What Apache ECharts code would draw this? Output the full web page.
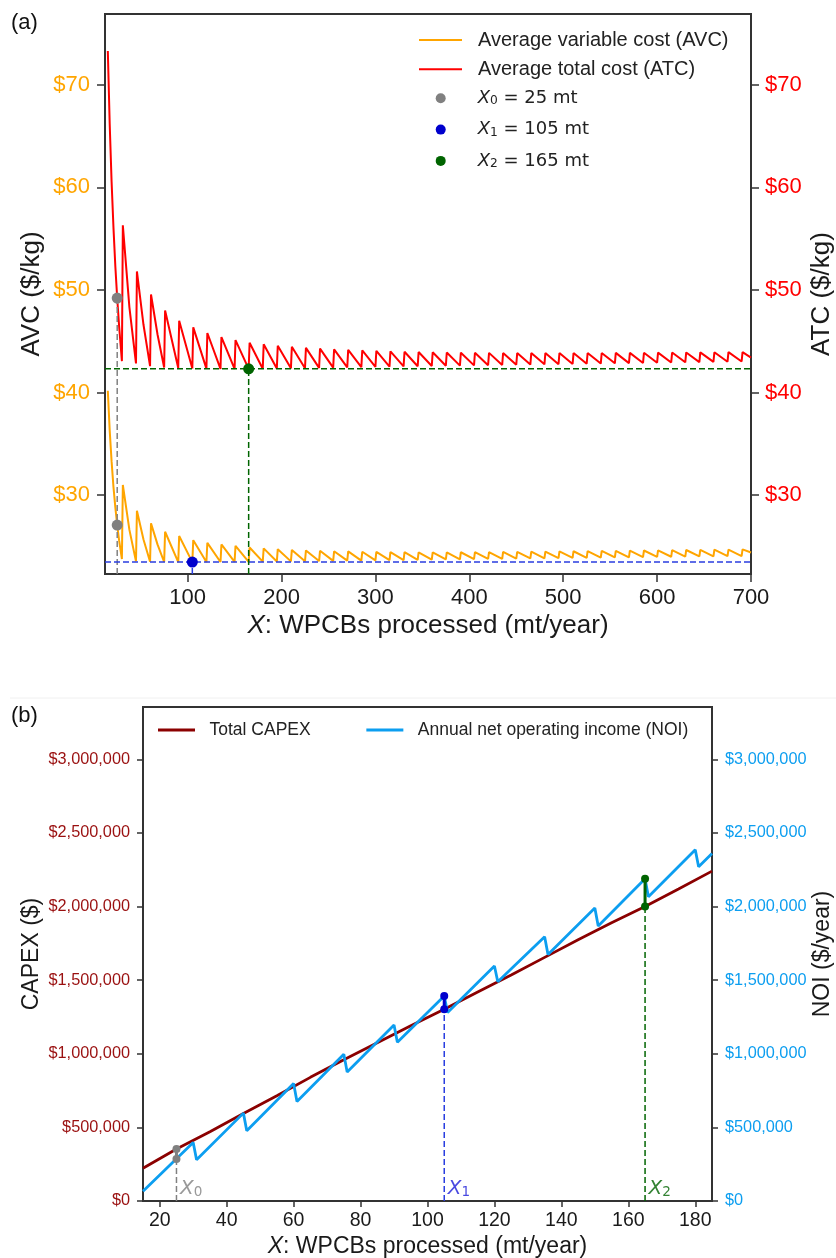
<!DOCTYPE html>
<html>
<head>
<meta charset="utf-8">
<script src="https://cdn.jsdelivr.net/npm/echarts@6/dist/echarts.min.js"></script>
<style>
html, body { margin: 0; padding: 0; background: #fff; }
#chart { width: 836px; height: 1258px; }
</style>
</head>
<body>
<div id="chart"></div>
<script>
// ---- panel (a): average costs ----
const xTicksA = [100, 200, 300, 400, 500, 600, 700];
const yTicksA = [30, 40, 50, 60, 70];
// each tooth runs from toothStart[i] (value just after a capacity step) to toothEnd[i]
const toothStart = [15, 31, 46, 61, 76, 91, 106, 121, 136, 151, 166, 181, 196, 211, 226, 241, 256, 271, 286, 301, 316, 331, 346, 361, 376, 391, 406, 421, 436, 451, 466, 481, 496, 511, 526, 541, 556, 571, 586, 601, 616, 631, 646, 661, 676, 691];
const toothEnd = [30, 45, 60, 75, 90, 105, 120, 135, 150, 165, 180, 195, 210, 225, 240, 255, 270, 285, 300, 315, 330, 345, 360, 375, 390, 405, 420, 435, 450, 465, 480, 495, 510, 525, 540, 555, 570, 585, 600, 615, 630, 645, 660, 675, 690, 700];
const atcHigh = [73.3, 56.3, 51.8, 49.55, 48.0, 47.0, 46.35, 45.8, 45.4, 45.1, 44.85, 44.7, 44.55, 44.45, 44.35, 44.28, 44.2, 44.15, 44.1, 44.05, 44.0, 43.97, 43.94, 43.92, 43.9, 43.88, 43.87, 43.86, 43.85, 43.85, 43.84, 43.84, 43.84, 43.84, 43.85, 43.85, 43.86, 43.86, 43.87, 43.88, 43.89, 43.9, 43.91, 43.92, 43.93, 43.94];
const atcLow = [43.05, 42.83, 42.56, 42.44, 42.38, 42.34, 42.32, 42.3, 42.3, 42.3, 42.31, 42.33, 42.35, 42.37, 42.4, 42.42, 42.45, 42.47, 42.5, 42.52, 42.54, 42.56, 42.58, 42.6, 42.62, 42.64, 42.66, 42.68, 42.7, 42.72, 42.74, 42.76, 42.78, 42.8, 42.82, 42.84, 42.86, 42.88, 42.9, 42.92, 42.94, 42.96, 42.98, 43.0, 43.02, 43.4];
const avcHigh = [40.16, 30.98, 28.47, 27.24, 26.42, 26.0, 25.6, 25.34, 25.18, 25.05, 24.88, 24.8, 24.72, 24.65, 24.6, 24.56, 24.52, 24.5, 24.47, 24.45, 24.44, 24.43, 24.42, 24.42, 24.42, 24.42, 24.43, 24.44, 24.45, 24.46, 24.48, 24.49, 24.5, 24.52, 24.53, 24.55, 24.56, 24.58, 24.59, 24.61, 24.62, 24.64, 24.65, 24.67, 24.68, 24.7];
const avcLow = [23.76, 23.55, 23.5, 23.47, 23.46, 23.46, 23.46, 23.47, 23.48, 23.49, 23.5, 23.52, 23.53, 23.55, 23.56, 23.58, 23.6, 23.61, 23.63, 23.65, 23.66, 23.68, 23.7, 23.72, 23.73, 23.75, 23.77, 23.78, 23.8, 23.82, 23.83, 23.85, 23.87, 23.88, 23.9, 23.92, 23.93, 23.95, 23.97, 23.98, 24.0, 24.01, 24.02, 24.04, 24.05, 24.4];
// extra readings inside the first, strongly curved teeth
const bendX = [17, 19, 21, 23, 25, 27, 38, 53, 68];
const atcBend = [66.2, 60.6, 56.1, 52.3, 49.2, 46.5, 48.3, 46.6, 45.63];
const avcBend = [36.3, 33.3, 30.8, 28.8, 27.07, 25.6, 26.6, 25.66, 25.16];

const markMt = [25, 105, 165];
const x0Atc = 49.2, x0Avc = 27.07, x1Avc = 23.46, x2Atc = 42.3;

// ---- panel (b): CAPEX vs NOI ----
const xTicksB = [20, 40, 60, 80, 100, 120, 140, 160, 180];
const yTicksB = [0, 500000, 1000000, 1500000, 2000000, 2500000, 3000000];
const capexX = [15, 25, 35, 45, 55, 65, 75, 85, 95, 105, 115, 125, 135, 145, 155, 165, 175, 185];
const capexVal = [222000, 353000, 470000, 595000, 715000, 840000, 960000, 1075000, 1190000, 1302000, 1420000, 1535000, 1655000, 1775000, 1890000, 2001000, 2120000, 2241000];
const noiX = [15, 30, 31, 45, 46, 60, 61, 75, 76, 90, 91, 105, 106, 120, 121, 135, 136, 150, 151, 165, 166, 180, 181, 185];
const noiVal = [66000, 398000, 280000, 597000, 477000, 798000, 676000, 997000, 877000, 1196000, 1079000, 1393000, 1280000, 1596000, 1490000, 1795000, 1675000, 1990000, 1868000, 2189000, 2067000, 2386000, 2271000, 2361000];
const markLow = [285000, 1302000, 2001000];
const markHigh = [353000, 1393000, 2189000];

const markColors = ['#808080', '#0000cd', '#006400'];
const dashBlue = '#2a3ee0';
const SANS = '"Liberation Sans", Arial, sans-serif';
const MATH = '"DejaVu Sans", sans-serif';
const AX = '#333';
const yMinA = 22.3, yMaxA = 76.9, xMinA = 12, xMaxA = 700;

function teeth(high, low, bend) {
    const pts = [];
    toothStart.forEach((x, i) => {
        pts.push([x, high[i]]);
        pts.push([toothEnd[i], low[i]]);
    });
    bendX.forEach((x, i) => pts.push([x, bend[i]]));
    return pts.sort((a, b) => a[0] - b[0]);
}

function mathRich(size, color) {
    return {
        i: { fontFamily: MATH, fontStyle: 'italic', fontSize: size, lineHeight: size, padding: [0, 0, 3, 0], verticalAlign: 'top', color: color },
        s: { fontFamily: MATH, fontSize: size * 0.68, lineHeight: size * 0.68, verticalAlign: 'bottom', color: color },
        t: { fontFamily: MATH, fontSize: size, lineHeight: size, padding: [0, 0, 3, 0], verticalAlign: 'top', color: color }
    };
}

const chart = echarts.init(document.getElementById('chart'), null, { renderer: 'canvas' });

function valueAxis(extra) {
    return Object.assign({
        type: 'value',
        splitLine: { show: false },
        axisLine: { show: true, onZero: false, lineStyle: { color: AX, width: 2 } },
        axisTick: { show: true, length: 7, lineStyle: { color: AX, width: 1.5 } },
        nameLocation: 'middle',
        nameMoveOverlap: false
    }, extra);
}

const dashed = (name, xi, yi, data, color) => ({
    name, type: 'line', xAxisIndex: xi, yAxisIndex: yi, data,
    showSymbol: false, symbol: 'none', silent: true, z: 3,
    lineStyle: { color, width: 1.5, type: [6, 3] }
});

const series = [
    {
        name: 'Average variable cost (AVC)', type: 'line', xAxisIndex: 0, yAxisIndex: 0,
        data: teeth(avcHigh, avcLow, avcBend), symbol: 'none',
        itemStyle: { color: '#ffa500' }, lineStyle: { color: '#ffa500', width: 2 }, z: 2
    },
    {
        name: 'Average total cost (ATC)', type: 'line', xAxisIndex: 0, yAxisIndex: 1,
        data: teeth(atcHigh, atcLow, atcBend), symbol: 'none',
        itemStyle: { color: '#ff0000' }, lineStyle: { color: '#ff0000', width: 2 }, z: 2
    },
    dashed('a-g0', 0, 0, [[markMt[0], yMinA], [markMt[0], x0Atc]], markColors[0]),
    dashed('a-b0', 0, 0, [[xMinA, x1Avc], [xMaxA, x1Avc]], dashBlue),
    dashed('a-b1', 0, 0, [[markMt[1], yMinA], [markMt[1], x1Avc]], dashBlue),
    dashed('a-n0', 0, 0, [[xMinA, x2Atc], [xMaxA, x2Atc]], markColors[2]),
    dashed('a-n1', 0, 0, [[markMt[2], yMinA], [markMt[2], x2Atc]], markColors[2]),
    { name: 'X0', type: 'scatter', xAxisIndex: 0, yAxisIndex: 0, data: [[markMt[0], x0Atc], [markMt[0], x0Avc]], symbolSize: 11, itemStyle: { color: markColors[0], opacity: 1 }, z: 5 },
    { name: 'X1', type: 'scatter', xAxisIndex: 0, yAxisIndex: 0, data: [[markMt[1], x1Avc]], symbolSize: 11, itemStyle: { color: markColors[1], opacity: 1 }, z: 5 },
    { name: 'X2', type: 'scatter', xAxisIndex: 0, yAxisIndex: 0, data: [[markMt[2], x2Atc]], symbolSize: 11, itemStyle: { color: markColors[2], opacity: 1 }, z: 5 },
    {
        name: 'Total CAPEX', type: 'line', xAxisIndex: 1, yAxisIndex: 2,
        data: capexX.map((x, i) => [x, capexVal[i]]), symbol: 'none',
        itemStyle: { color: '#8b0000' }, lineStyle: { color: '#8b0000', width: 2.8 }, z: 2
    },
    {
        name: 'Annual net operating income (NOI)', type: 'line', xAxisIndex: 1, yAxisIndex: 3,
        data: noiX.map((x, i) => [x, noiVal[i]]), symbol: 'none',
        itemStyle: { color: '#0c9ef0' }, lineStyle: { color: '#0c9ef0', width: 2.8 }, z: 3
    }
];

markMt.forEach((x, i) => {
    const c = markColors[i];
    series.push(dashed('b-d' + i, 1, 2, [[x, 0], [x, markLow[i]]], i === 1 ? dashBlue : c));
    series.push({
        name: 'b-s' + i, type: 'line', xAxisIndex: 1, yAxisIndex: 2, symbol: 'none', silent: true, z: 4,
        data: [[x, markLow[i]], [x, markHigh[i]]], lineStyle: { color: c, width: 3 }
    });
    series.push({
        name: 'b-p' + i, type: 'scatter', xAxisIndex: 1, yAxisIndex: 2, symbolSize: 8, z: 5,
        data: [[x, markLow[i]], [x, markHigh[i]]], itemStyle: { color: c, opacity: 1 }
    });
    series.push({
        name: 'b-l' + i, type: 'scatter', xAxisIndex: 1, yAxisIndex: 2, symbolSize: 1, z: 5,
        data: [[x, 0]], itemStyle: { color: 'rgba(0,0,0,0)' },
        label: {
            show: true, position: 'right', distance: 3, offset: [0, -12],
            formatter: '{i|X}{s|' + i + '}', rich: mathRich(20, i === 1 ? '#1a1ad8' : c)
        }
    });
});

const dotNames = { X0: '{i|X}{s|0}{t| = 25 mt}', X1: '{i|X}{s|1}{t| = 105 mt}', X2: '{i|X}{s|2}{t| = 165 mt}' };

const option = {
    animation: false,
    backgroundColor: '#fff',
    title: [
        { text: '(a)', left: 11, top: 12, padding: 0, textStyle: { fontFamily: SANS, fontSize: 22, fontWeight: 'normal', color: '#111' } },
        { text: '(b)', left: 11, top: 705, padding: 0, textStyle: { fontFamily: SANS, fontSize: 22, fontWeight: 'normal', color: '#111' } }
    ],
    graphic: [{ type: 'line', shape: { x1: 10, y1: 698, x2: 836, y2: 698 }, style: { stroke: '#f0f0f0', lineWidth: 1 } }],
    grid: [
        { left: 105, top: 14, width: 646, height: 560, show: true, borderColor: AX, borderWidth: 2, outerBoundsMode: 'none', containLabel: false },
        { left: 143, top: 707, width: 569, height: 494, show: true, borderColor: AX, borderWidth: 2, outerBoundsMode: 'none', containLabel: false }
    ],
    legend: [
        {
            orient: 'vertical', left: 419, top: 30, padding: 0, itemGap: 9.3,
            itemWidth: 43, itemHeight: 2, selectedMode: false,
            data: [{ name: 'Average variable cost (AVC)', icon: 'rect' }, { name: 'Average total cost (ATC)', icon: 'rect' }],
            textStyle: { fontFamily: SANS, fontSize: 20, lineHeight: 20, color: '#222', padding: [0, 0, 0, 11] }
        },
        {
            orient: 'vertical', left: 435.7, top: 89.3, padding: 0, itemGap: 10.3,
            itemWidth: 10, itemHeight: 10, selectedMode: false,
            data: [{ name: 'X0', icon: 'circle' }, { name: 'X1', icon: 'circle' }, { name: 'X2', icon: 'circle' }],
            formatter: n => dotNames[n],
            textStyle: { fontFamily: MATH, fontSize: 18, color: '#222', padding: [0, 0, 0, 27], rich: mathRich(18, '#222') }
        },
        {
            orient: 'horizontal', left: 158, top: 721, padding: 0, itemGap: 55.7,
            itemWidth: 37, itemHeight: 3, selectedMode: false,
            data: [{ name: 'Total CAPEX', icon: 'rect' }, { name: 'Annual net operating income (NOI)', icon: 'rect' }],
            textStyle: { fontFamily: SANS, fontSize: 17.5, lineHeight: 18, color: '#222', padding: [0, 0, 0, 9.5] }
        }
    ],
    xAxis: [
        valueAxis({
            gridIndex: 0, min: xMinA, max: xMaxA, position: 'bottom',
            axisTick: { show: true, length: 8, customValues: xTicksA, lineStyle: { color: AX, width: 1.5 } },
            axisLabel: { customValues: xTicksA, fontFamily: SANS, fontSize: 22, color: '#1a1a1a', margin: 13 },
            name: '{i|X}: WPCBs processed (mt/year)', nameGap: 39,
            nameTextStyle: { fontFamily: SANS, fontSize: 26, color: '#1a1a1a', rich: { i: { fontFamily: SANS, fontSize: 26, fontStyle: 'italic', color: '#1a1a1a' } } }
        }),
        valueAxis({
            gridIndex: 1, min: 15, max: 185, position: 'bottom',
            axisTick: { show: true, length: 6, customValues: xTicksB, lineStyle: { color: AX, width: 1.5 } },
            axisLabel: { customValues: xTicksB, fontFamily: SANS, fontSize: 19.5, color: '#1a1a1a', margin: 10 },
            name: '{i|X}: WPCBs processed (mt/year)', nameGap: 34,
            nameTextStyle: { fontFamily: SANS, fontSize: 23, color: '#1a1a1a', rich: { i: { fontFamily: SANS, fontSize: 23, fontStyle: 'italic', color: '#1a1a1a' } } }
        })
    ],
    yAxis: [
        valueAxis({
            gridIndex: 0, min: yMinA, max: yMaxA, position: 'left',
            axisTick: { show: true, length: 8, customValues: yTicksA, lineStyle: { color: AX, width: 1.5 } },
            axisLabel: { customValues: yTicksA, formatter: v => '$' + v, fontFamily: SANS, fontSize: 22, color: '#ffa500', margin: 15 },
            name: 'AVC ($/kg)', nameRotate: 90, nameGap: 60,
            nameTextStyle: { fontFamily: SANS, fontSize: 26, color: '#1a1a1a' }
        }),
        valueAxis({
            gridIndex: 0, min: yMinA, max: yMaxA, position: 'right',
            axisTick: { show: true, length: 8, customValues: yTicksA, lineStyle: { color: AX, width: 1.5 } },
            axisLabel: { customValues: yTicksA, formatter: v => '$' + v, fontFamily: SANS, fontSize: 22, color: '#ff0000', margin: 14 },
            name: 'ATC ($/kg)', nameRotate: 90, nameGap: 58,
            nameTextStyle: { fontFamily: SANS, fontSize: 26, color: '#1a1a1a' }
        }),
        valueAxis({
            gridIndex: 1, min: 0, max: 3356000, position: 'left',
            axisTick: { show: true, length: 6, customValues: yTicksB, lineStyle: { color: AX, width: 1.5 } },
            axisLabel: { customValues: yTicksB, formatter: v => '$' + v.toLocaleString('en-US'), fontFamily: SANS, fontSize: 16.3, color: '#9a1010', margin: 13 },
            name: 'CAPEX ($)', nameRotate: 90, nameGap: 100,
            nameTextStyle: { fontFamily: SANS, fontSize: 23, color: '#1a1a1a' }
        }),
        valueAxis({
            gridIndex: 1, min: 0, max: 3356000, position: 'right',
            axisTick: { show: true, length: 6, customValues: yTicksB, lineStyle: { color: AX, width: 1.5 } },
            axisLabel: { customValues: yTicksB, formatter: v => '$' + v.toLocaleString('en-US'), fontFamily: SANS, fontSize: 16.3, color: '#0c9ef0', margin: 13 },
            name: 'NOI ($/year)', nameRotate: 90, nameGap: 99,
            nameTextStyle: { fontFamily: SANS, fontSize: 23, color: '#1a1a1a' }
        })
    ],
    series: series
};

chart.setOption(option);
</script>
</body>
</html>
